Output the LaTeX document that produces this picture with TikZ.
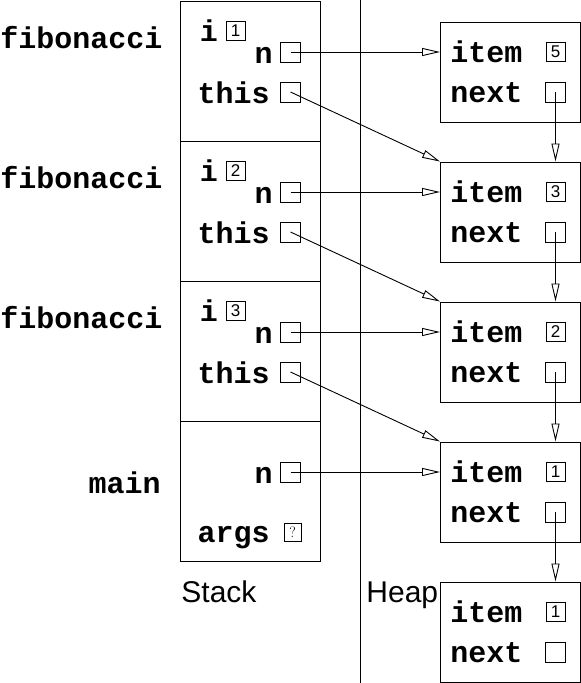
\documentclass[tikz,border=0pt]{standalone}
\usepackage{fontspec}
\setmonofont{Liberation Mono}
\setsansfont{Liberation Sans}
\usetikzlibrary{arrows.meta}
\begin{document}
\begin{tikzpicture}[x=1pt,y=-1pt,line width=0.9pt,
  code/.style={font=\fontsize{30}{30}\selectfont\ttfamily\bfseries,inner sep=0pt},
  big/.style={font=\fontsize{30}{30}\selectfont\sffamily,inner sep=0pt},
  frame/.style={draw,minimum width=140pt,minimum height=140pt,inner sep=0pt},
  heapbox/.style={draw,minimum width=140pt,minimum height=100pt,inner sep=0pt},
  ptrbox/.style={draw,minimum width=20pt,minimum height=20pt,inner sep=0pt},
  valbox/.style={draw,minimum width=19pt,minimum height=19pt,inner sep=0pt,font=\fontsize{17}{17}\selectfont\sffamily},
  ptr/.style={-{Triangle[open,length=18pt,width=8pt]}}]
\useasboundingbox (0,0) rectangle (581,683);
% divider
\coordinate (dtop) at (360.5,0);
\coordinate (dbot) at (360.5,683);
\draw (dtop) -- (dbot);
% stack frames
\node[frame] (f1) at (250.5,71) {};
\node[frame] (f2) at (250.5,211) {};
\node[frame] (f3) at (250.5,351) {};
\node[frame] (f4) at (250.5,491) {};
% heap boxes
\node[heapbox] (h1) at (510.5,72) {};
\node[heapbox] (h2) at (510.5,212) {};
\node[heapbox] (h3) at (510.5,352) {};
\node[heapbox] (h4) at (510.5,492) {};
\node[heapbox] (h5) at (510.5,632) {};
% labels left
\node[code,anchor=base west] (l1) at (0,48) {fibonacci};
\node[code,anchor=base west] (l2) at (0,188) {fibonacci};
\node[code,anchor=base west] (l3) at (0,328) {fibonacci};
\node[code,anchor=base east] (l4) at (161,493) {main};
% fibonacci frames
\foreach \k/\d in {1/1,2/2,3/3}{
  \pgfmathsetmacro{\oy}{(\k-1)*140}
  \node[code,anchor=base west] (i\k) at (199.5,41+\oy) {i};
  \node[valbox] (iv\k) at (235.5,30.5+\oy) {\d};
  \node[code,anchor=base east] (nl\k) at (273,63+\oy) {n};
  \node[ptrbox] (n\k) at (290.5,52+\oy) {};
  \node[code,anchor=base east] (tl\k) at (270,103+\oy) {this};
  \node[ptrbox] (t\k) at (290.5,92+\oy) {};
}
% main frame
\node[code,anchor=base east] (nl4) at (273,483) {n};
\node[ptrbox] (n4) at (290.5,472) {};
\node[code,anchor=base east] (al) at (270,542) {args};
\node[draw,minimum width=17pt,minimum height=18pt,inner sep=0pt,font=\fontsize{15}{15}\selectfont\rmfamily] (av) at (292.5,532.5) {?};
% heap contents
\foreach \k/\v in {1/5,2/3,3/2,4/1,5/1}{
  \pgfmathsetmacro{\oy}{(\k-1)*140}
  \node[code,anchor=base west] (it\k) at (450,62+\oy) {item};
  \node[valbox] (iv\k h) at (555.5,51.5+\oy) {\v};
  \node[code,anchor=base west] (nx\k) at (450,102+\oy) {next};
  \node[ptrbox] (nb\k) at (555.5,92+\oy) {};
}
% pointer arrows
\foreach \k in {1,2,3,4}{
  \draw[ptr] (n\k.center) -- (n\k.center -| h\k.west);
}
\draw[ptr] (t1.center) -- (h2.north west);
\draw[ptr] (t2.center) -- (h3.north west);
\draw[ptr] (t3.center) -- (h4.north west);
\draw[ptr] (nb1.center) -- (nb1.center |- h2.north);
\draw[ptr] (nb2.center) -- (nb2.center |- h3.north);
\draw[ptr] (nb3.center) -- (nb3.center |- h4.north);
\draw[ptr] (nb4.center) -- (nb4.center |- h5.north);
% bottom labels
\node[big,anchor=base west] (stk) at (181,602) {Stack};
\node[big,anchor=base west] (hp) at (366,602) {Heap};
\end{tikzpicture}
\end{document}
